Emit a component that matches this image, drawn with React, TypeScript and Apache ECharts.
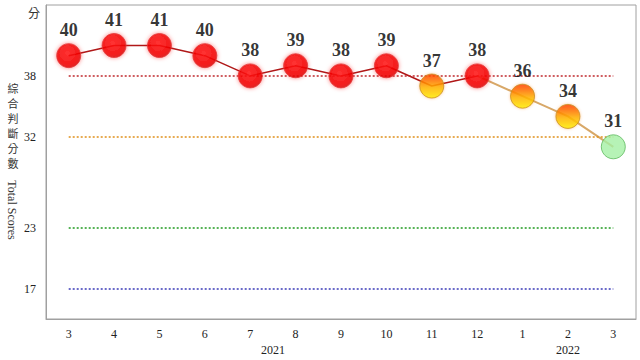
import React, { useEffect, useRef } from "react";
import * as echarts from "echarts";

const months = ["3", "4", "5", "6", "7", "8", "9", "10", "11", "12", "1", "2", "3"];
const scores = [40, 41, 41, 40, 38, 39, 38, 39, 37, 38, 36, 34, 31];
const thresholds = [38, 32, 23, 17];
const thresholdColors = ["#c0282c", "#e0901a", "#1f9a1f", "#3a3ab8"];
const years = [
  { label: "2021", from: 0, to: 9 },
  { label: "2022", from: 10, to: 12 },
];
const yTitleZh = ["綜", "合", "判", "斷", "分", "數"];
const yTitleEn = "Total Scores";
const serif = "'Liberation Serif', 'Times New Roman', serif";
const cjk = "'Noto Sans CJK TC', sans-serif";

function markerStyle(v: number) {
  if (v >= 38) {
    return {
      color: new echarts.graphic.RadialGradient(0.45, 0.4, 0.6, [
        { offset: 0, color: "#ff1a1a" },
        { offset: 0.8, color: "#f00000" },
        { offset: 1, color: "#d80000" },
      ]),
      borderColor: "#e43a3a",
      borderWidth: 1,
      shadowBlur: 4,
      shadowColor: "rgba(255,0,0,0.55)",
    };
  }
  if (v >= 32) {
    return {
      color: new echarts.graphic.LinearGradient(0, 0, 0, 1, [
        { offset: 0, color: "#ff3a00" },
        { offset: 0.55, color: "#ffb400" },
        { offset: 1, color: "#fff200" },
      ]),
      borderColor: "#c89020",
      borderWidth: 1,
      shadowBlur: 3,
      shadowColor: "rgba(255,120,0,0.45)",
    };
  }
  return {
    color: "#a4f0a4",
    borderColor: "#5cb85c",
    borderWidth: 1,
  };
}

export default function App() {
  const ref = useRef<HTMLDivElement>(null);
  useEffect(() => {
    if (!ref.current) return;
    const chart = echarts.init(ref.current, null, { renderer: "svg" });
    const splitIdx = 9;
    const redLine = scores.map((v, i) => (i <= splitIdx ? v : null));
    const tanLine = scores.map((v, i) => (i >= splitIdx ? v : null));
    const option: any = {
      animation: false,
      backgroundColor: "#ffffff",
      grid: {
        left: 46,
        right: 4,
        top: 5,
        bottom: 41,
        show: true,
        borderColor: "#a0a0a0",
        borderWidth: 1,
      },
      xAxis: {
        type: "category",
        data: months,
        boundaryGap: true,
        axisLine: { show: true, lineStyle: { color: "#a0a0a0" } },
        axisTick: { show: false },
        axisLabel: {
          color: "#222",
          fontFamily: serif,
          fontSize: 12,
          margin: 9,
        },
        splitLine: { show: false },
      },
      yAxis: {
        type: "value",
        min: 14,
        max: 45,
        interval: 1,
        axisLine: { show: true, lineStyle: { color: "#a0a0a0" } },
        axisTick: { show: false },
        splitLine: { show: false },
        axisLabel: {
          color: "#222",
          fontFamily: serif,
          fontSize: 12,
          margin: 10,
          formatter: (v: number) => (thresholds.includes(v) ? String(v) : ""),
        },
      },
      series: [
        {
          type: "line",
          data: redLine,
          symbol: "none",
          z: 2,
          lineStyle: { color: "#b01818", width: 1.5 },
          markLine: {
            silent: true,
            symbol: "none",
            label: { show: false },
            data: thresholds.map((t, i) => [
              {
                coord: [0, t],
                lineStyle: { color: thresholdColors[i], type: [2, 2], width: 1.5 },
              },
              { coord: [months.length - 1, t] },
            ]),
          },
        },
        {
          type: "line",
          data: tanLine,
          symbol: "none",
          z: 2,
          lineStyle: { color: "#d8a868", width: 2 },
        },
        {
          type: "scatter",
          z: 5,
          symbolSize: 24,
          data: scores.map((v) => ({ value: v, itemStyle: markerStyle(v) })),
          label: {
            show: true,
            position: "top",
            distance: 4,
            color: "#000",
            fontFamily: serif,
            fontWeight: "bold",
            fontSize: 18,
          },
        },
      ],
    };
    chart.setOption(option);

    const px = (i: number) => chart.convertToPixel({ xAxisIndex: 0 }, i) as number;
    chart.setOption({
      graphic: [
        {
          type: "text",
          left: 28,
          top: 6,
          style: { text: "分", font: `12px ${cjk}`, fill: "#333" },
        },
        ...yTitleZh.map((ch, i) => ({
          type: "text",
          x: 13,
          y: 88 + i * 15,
          style: {
            text: ch,
            font: `11px ${cjk}`,
            fill: "#333",
            align: "center",
            verticalAlign: "middle",
          },
        })),
        {
          type: "text",
          x: 12,
          y: 210,
          rotation: -Math.PI / 2,
          style: {
            text: yTitleEn,
            font: `12px ${serif}`,
            fill: "#333",
            align: "center",
            verticalAlign: "middle",
          },
        },
        ...years.map((y) => ({
          type: "text",
          x: (px(y.from) + px(y.to)) / 2,
          y: 350,
          style: {
            text: y.label,
            font: `12px ${serif}`,
            fill: "#222",
            align: "center",
            verticalAlign: "middle",
          },
        })),
      ],
    });
    return () => chart.dispose();
  }, []);
  return <div ref={ref} style={{ width: 640, height: 360, position: "absolute", left: 0, top: 0 }} />;
}
